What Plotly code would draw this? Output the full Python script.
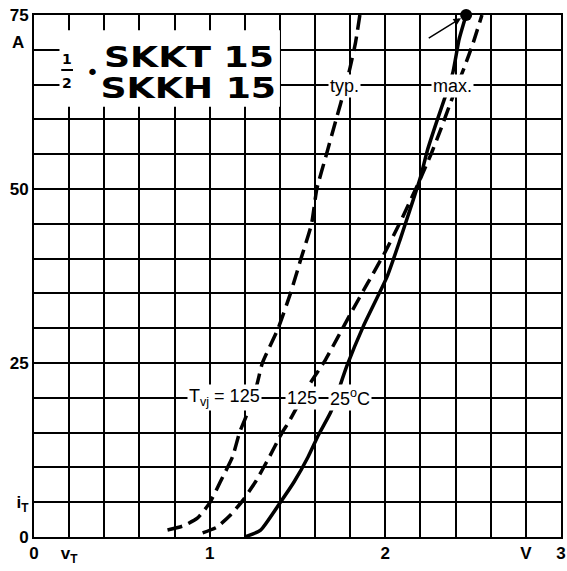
import plotly.graph_objects as go

# ---- data (V, A) ----
typ125_v = [0.76, 0.85, 0.93, 1.00, 1.06, 1.13, 1.17, 1.21, 1.27, 1.30, 1.39, 1.46,
            1.52, 1.58, 1.61, 1.665, 1.72, 1.77, 1.80, 1.83, 1.855]
typ125_i = [1.0, 1.6, 2.7, 4.9, 7.9, 11.5, 15.0, 17.5, 22.0, 25.0, 30.0, 35.0,
            40.0, 45.0, 50.0, 55.0, 60.0, 64.5, 67.5, 71.0, 75.0]

max125_v = [0.96, 1.04, 1.12, 1.19, 1.26, 1.34, 1.41, 1.45, 1.57, 1.66, 1.80, 1.90,
            2.00, 2.08, 2.14, 2.20, 2.26, 2.31, 2.38, 2.45, 2.50, 2.55]
max125_i = [0.6, 1.4, 3.2, 5.3, 7.9, 11.5, 14.9, 16.5, 22.0, 25.5, 32.0, 36.5,
            41.0, 45.0, 48.2, 51.5, 55.0, 58.2, 63.0, 67.5, 71.0, 75.0]

max25_v = [1.20, 1.29, 1.40, 1.48, 1.56, 1.62, 1.69, 1.78, 1.875, 2.01, 2.085, 2.14,
           2.20, 2.24, 2.29, 2.34, 2.385, 2.42, 2.46]
max25_i = [0.0, 1.0, 4.9, 7.9, 11.5, 14.7, 18.0, 24.5, 30.3, 37.4, 42.8, 47.0,
           51.7, 55.6, 59.5, 63.2, 66.8, 71.5, 75.0]

x_tickvals = [0, 0.2, 1, 2, 2.8, 3]
x_ticktext = ["0", "v<sub>T</sub>", "1", "2", "V", "3"]
y_tickvals = [0, 5, 25, 50, 75]
y_ticktext = ["0", "i<sub>T</sub>", "25", "50", "75"]

BLACK = "black"
LBL = dict(family="Liberation Sans", size=17, color=BLACK)
CURVE_LBL = dict(family="Liberation Sans", size=18, color=BLACK)

fig = go.Figure()
fig.add_trace(go.Scatter(x=typ125_v, y=typ125_i, mode="lines",
                         line=dict(color=BLACK, width=3.5, dash="15px,7px",
                                   shape="spline", smoothing=0.5)))
fig.add_trace(go.Scatter(x=max125_v, y=max125_i, mode="lines",
                         line=dict(color=BLACK, width=3.5, dash="14px,7px",
                                   shape="spline", smoothing=0.5)))
fig.add_trace(go.Scatter(x=max25_v, y=max25_i, mode="lines",
                         line=dict(color=BLACK, width=3.5,
                                   shape="spline", smoothing=0.5)))
fig.add_trace(go.Scatter(x=[max25_v[-1]], y=[max25_i[-1]], mode="markers",
                         marker=dict(color=BLACK, size=12), cliponaxis=False))

axis_common = dict(showgrid=True, gridcolor=BLACK, gridwidth=2,
                   showline=True, linecolor=BLACK, linewidth=2, mirror=True,
                   zeroline=False, ticks="", tickfont=dict(LBL, weight="bold"),
                   tickmode="array", automargin=False)

fig.update_xaxes(range=[0, 3], tickvals=x_tickvals, ticktext=x_ticktext,
                 minor=dict(tickmode="linear", tick0=0, dtick=0.2, showgrid=True,
                            gridcolor=BLACK, gridwidth=2, ticks=""),
                 **axis_common)
fig.update_yaxes(range=[0, 75], tickvals=y_tickvals, ticktext=y_ticktext,
                 minor=dict(tickmode="linear", tick0=0, dtick=5, showgrid=True,
                            gridcolor=BLACK, gridwidth=2, ticks=""),
                 **axis_common)

# white block behind the title
fig.add_shape(type="rect", xref="x", yref="y", x0=0.145, x1=1.40, y0=61.8, y1=72.8,
              fillcolor="white", line=dict(width=0), layer="above")
# fraction bar
fig.add_shape(type="line", xref="x", yref="y", x0=0.155, x1=0.222, y0=67.1, y1=67.1,
              line=dict(color=BLACK, width=2), layer="above")

TITLE = dict(family="DejaVu Sans", size=29, color=BLACK, weight="bold")
SMALL = dict(family="DejaVu Sans", size=14, color=BLACK, weight="bold")
ann = [
    dict(x=0.88, y=69.0, text="SKKT 15", font=TITLE, borderpad=0),
    dict(x=0.88, y=64.5, text="SKKH 15", font=TITLE, borderpad=0),
    dict(x=0.188, y=68.7, text="1", font=SMALL, borderpad=0),
    dict(x=0.188, y=65.3, text="2", font=SMALL, borderpad=0),
    dict(x=0.333, y=66.8, text="•", font=dict(family="DejaVu Sans", size=22, color=BLACK),
         borderpad=0),
    dict(x=1.77, y=64.8, text="typ.", font=CURVE_LBL, bgcolor="white"),
    dict(x=2.38, y=64.8, text="max.", font=CURVE_LBL, bgcolor="white"),
    dict(x=1.085, y=20.0, text="T<sub>vj</sub> = 125", font=CURVE_LBL, bgcolor="white"),
    dict(x=1.525, y=20.0, text="125", font=CURVE_LBL, bgcolor="white"),
    dict(x=1.80, y=20.0, text="25<sup>o</sup>C", font=CURVE_LBL, bgcolor="white"),
]
for a in ann:
    fig.add_annotation(xref="x", yref="y", showarrow=False, **a)

# unit label on the current axis
fig.add_annotation(xref="paper", yref="y", x=-0.03, y=71.0, xanchor="center",
                   text="A", showarrow=False, font=dict(LBL, weight="bold"))

# arrow pointing to the end dot
fig.add_annotation(xref="x", yref="y", axref="x", ayref="y",
                   x=max25_v[-1], y=max25_i[-1], ax=2.23, ay=71.4, text=" ",
                   showarrow=True, arrowhead=2, arrowsize=1, arrowwidth=1.5,
                   arrowcolor=BLACK, standoff=6)

fig.update_layout(width=567, height=571, margin=dict(l=34, r=6, t=15, b=34),
                  plot_bgcolor="white", paper_bgcolor="white", showlegend=False)

# remove the page's default body margin and give the heavy title its extended look
post = """
document.body.style.margin = '0';
document.querySelectorAll('.annotation-text').forEach(function (t) {
  if (t.textContent.indexOf('SKK') === 0) {
    t.style.transformBox = 'fill-box';
    t.style.transformOrigin = 'center';
    t.style.transform = 'scaleX(1.25)';
  }
});
"""
fig.write_html("out.html", post_script=post, config={"displayModeBar": False})
